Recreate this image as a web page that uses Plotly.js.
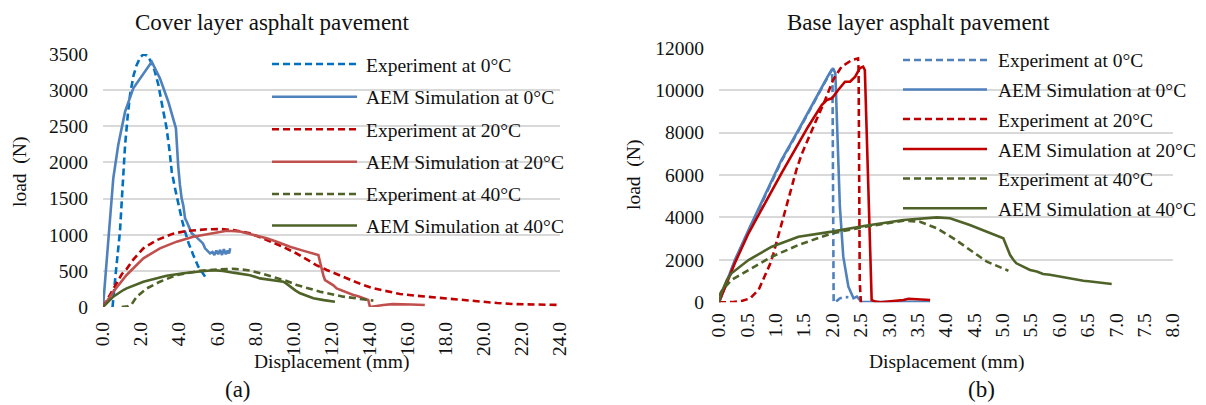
<!DOCTYPE html>
<html>
<head>
<meta charset="utf-8">
<script src="https://cdn.plot.ly/plotly-3.0.1.min.js"></script>
<style>
html,body{margin:0;padding:0;background:#fff;}
#chart{width:1206px;height:405px;}
</style>
</head>
<body>
<div id="chart"></div>
<script>
// ---------- Data ----------
const seriesNames = ["Experiment at 0°C","AEM Simulation at 0°C","Experiment at 20°C","AEM Simulation at 20°C","Experiment at 40°C","AEM Simulation at 40°C"];
const chartTitles = ["Cover layer asphalt pavement","Base layer asphalt pavement"];
const xTitle = "Displacement (mm)";
const yTitle = "load\u00a0 (N)";
const panelLabels = ["(a)","(b)"];

// (a) Cover layer
const coverExp0X = [0.5, 0.55, 0.7, 0.89, 1.0, 1.16, 1.3, 1.42, 1.6, 1.77, 1.95, 2.12, 2.3, 2.47, 2.7, 2.91, 3.1, 3.34, 3.5, 3.61, 3.8, 3.96, 4.15, 4.31, 4.5, 4.74, 5.0, 5.36];
const coverExp0Y = [0, 150, 550, 1042, 1550, 2241, 2650, 2933, 3200, 3348, 3450, 3496, 3480, 3417, 3280, 3071, 2800, 2472, 2150, 1872, 1620, 1411, 1200, 1042, 880, 719, 560, 420];

const coverAem0X = [0, 0.1, 0.28, 0.54, 0.8, 1.16, 1.59, 2.12, 2.56, 2.99, 3.43, 3.83, 3.88, 3.95, 4.04, 4.13, 4.22, 4.31, 4.4, 4.48, 4.66, 4.85, 5.09, 5.25, 5.36, 5.5, 5.62, 5.75, 5.85, 5.95, 6.05, 6.15, 6.25, 6.35, 6.45, 6.55, 6.62, 6.68];
const coverAem0Y = [0, 330, 858, 1780, 2241, 2702, 3025, 3233, 3393, 3163, 2840, 2472, 2200, 1950, 1688, 1503, 1400, 1227, 1180, 1134, 1019, 980, 927, 880, 812, 770, 742, 760, 720, 780, 730, 790, 720, 800, 730, 780, 740, 812];

const coverExp20X = [0, 0.4, 0.7, 1.0, 1.24, 1.59, 2.12, 2.82, 3.69, 4.39, 5.45, 6.2, 6.84, 7.72, 8.6, 9.47, 10.17, 10.7, 11.2, 11.75, 12.3, 12.97, 13.6, 14.2, 14.9, 15.6, 16.5, 17.35, 18.0, 18.75, 19.8, 20.7, 21.55, 22.8, 24.0];
const coverExp20Y = [0, 180, 330, 460, 525, 655, 812, 925, 1015, 1052, 1075, 1078, 1065, 1019, 927, 830, 740, 660, 580, 512, 450, 373, 310, 258, 215, 180, 155, 134, 115, 97, 73, 55, 41, 34, 28];

const coverAem20X = [0, 0.54, 1.24, 2.12, 2.99, 3.87, 4.74, 5.79, 6.5, 7.2, 7.8, 8.6, 9.2, 9.82, 10.5, 11.31, 11.4, 11.49, 11.58, 11.66, 11.8, 11.92, 12.1, 12.27, 12.45, 12.62, 12.9, 13.15, 13.4, 13.67, 13.93, 14.02, 14.2, 14.37, 14.72, 15.2, 15.6, 16.2, 16.9];
const coverAem20Y = [0, 212, 443, 674, 812, 904, 973, 1028, 1055, 1045, 1005, 950, 895, 834, 780, 719, 620, 512, 430, 373, 350, 328, 300, 258, 240, 212, 190, 166, 150, 120, 97, 0, 8, 14, 28, 40, 41, 35, 28];

const coverExp40X = [0.98, 1.3, 1.51, 1.77, 2.3, 2.99, 3.87, 5.09, 6.14, 6.84, 7.2, 7.72, 8.42, 8.94, 9.65, 10.17, 11.4, 12.62, 13.5, 14.2];
const coverExp40Y = [0, 10, 40, 143, 258, 350, 443, 500, 521, 530, 521, 505, 455, 419, 360, 304, 212, 143, 110, 88];

const coverAem40X = [0, 0.54, 1.07, 1.24, 2.12, 2.47, 3.34, 4.22, 4.57, 5.2, 5.79, 6.3, 6.84, 7.72, 8.25, 9.0, 9.47, 9.65, 9.82, 10.1, 10.35, 10.7, 11.05, 11.6, 12.18];
const coverAem40Y = [0, 143, 235, 258, 350, 373, 433, 466, 479, 495, 508, 500, 475, 440, 396, 370, 350, 320, 281, 230, 189, 150, 120, 95, 73];

// (b) Base layer
const baseExp0X = [0, 0.15, 0.28, 0.52, 1.1, 1.4, 1.69, 1.93, 1.99, 2.0, 2.01, 2.02, 2.05, 2.13, 2.2, 2.28];
const baseExp0Y = [0, 1050, 1950, 3350, 6650, 8080, 9480, 10650, 10980, 10300, 5000, 0, 0, 188, 250, 235];

const baseAem0X = [0, 0.15, 0.28, 0.52, 1.1, 1.4, 1.69, 1.93, 2.01, 2.05, 2.09, 2.13, 2.19, 2.28, 2.37, 2.43, 2.47, 2.51, 2.7, 3.0, 3.3, 3.5, 3.72];
const baseAem0Y = [0, 1100, 1993, 3400, 6707, 8121, 9535, 10713, 11029, 10793, 7650, 4506, 2149, 735, 188, 264, 150, 28, 10, 5, 10, 20, 28];

const baseExp20X = [0, 0.25, 0.4, 0.55, 0.7, 0.78, 0.9, 0.96, 1.05, 1.13, 1.2, 1.28, 1.37, 1.46, 1.58, 1.69, 1.87, 2.01, 2.16, 2.34, 2.45, 2.46, 2.47, 2.48, 2.5, 2.54];
const baseExp20Y = [0, 10, 60, 188, 600, 1051, 1800, 2309, 3200, 3900, 4700, 5500, 6300, 7000, 7800, 8437, 9535, 10478, 11105, 11420, 11500, 11000, 6000, 1000, 0, 0];

const baseAem20X = [0, 0.15, 0.28, 0.52, 1.1, 1.57, 1.81, 1.9, 1.99, 2.1, 2.22, 2.31, 2.4, 2.48, 2.54, 2.57, 2.6, 2.63, 2.66, 2.69, 2.75, 2.85, 3.07, 3.25, 3.34, 3.42, 3.55, 3.65, 3.72];
const baseAem20Y = [0, 1000, 1850, 3252, 6080, 8277, 9300, 9535, 9615, 10006, 10398, 10398, 10633, 11029, 11105, 10949, 8500, 6080, 3000, 108, 30, 0, 61, 108, 170, 155, 108, 115, 108];

const baseExp40X = [0, 0.05, 0.22, 0.52, 0.93, 1.4, 1.99, 2.58, 2.93, 3.25, 3.54, 3.84, 4.13, 4.42, 4.72, 5.1];
const baseExp40Y = [300, 550, 1051, 1522, 2149, 2701, 3252, 3563, 3723, 3846, 3800, 3486, 3016, 2465, 1915, 1490];

const baseAem40X = [0, 0.05, 0.14, 0.22, 0.52, 0.93, 1.4, 1.99, 2.58, 2.93, 3.25, 3.84, 4.07, 4.42, 4.72, 5.01, 5.07, 5.13, 5.19, 5.24, 5.36, 5.48, 5.6, 5.71, 5.83, 5.95, 6.06, 6.18, 6.3, 6.42, 6.55, 6.71, 6.8, 6.92];
const baseAem40Y = [0, 500, 1051, 1366, 1993, 2622, 3093, 3330, 3610, 3752, 3879, 4005, 3959, 3643, 3330, 3016, 2622, 2229, 1993, 1838, 1680, 1522, 1450, 1334, 1300, 1240, 1200, 1131, 1080, 1018, 980, 924, 900, 862];

// ---------- Styles ----------
const W = 1206, H = 405;
const FONT = "Liberation Serif, Times New Roman, serif";
const TXT = "#111";
const DASH = "7px,4px";
const LW = 2.6;
const leftColors  = ["#0070C0","#4F81BD","#C00000","#C0504D","#4F6228","#4F6228"];
const rightColors = ["#4F81BD","#4F81BD","#C00000","#C00000","#4F6228","#4F6228"];
const dashes = [DASH,"solid",DASH,"solid",DASH,"solid"];

const coverSets = [[coverExp0X,coverExp0Y],[coverAem0X,coverAem0Y],[coverExp20X,coverExp20Y],[coverAem20X,coverAem20Y],[coverExp40X,coverExp40Y],[coverAem40X,coverAem40Y]];
const baseSets  = [[baseExp0X,baseExp0Y],[baseAem0X,baseAem0Y],[baseExp20X,baseExp20Y],[baseAem20X,baseAem20Y],[baseExp40X,baseExp40Y],[baseAem40X,baseAem40Y]];

const traces = [];
coverSets.forEach((s,i)=>traces.push({x:s[0],y:s[1].map(v=>Math.max(0,v)),type:"scatter",mode:"lines",name:seriesNames[i],showlegend:false,
  line:{color:leftColors[i],width:LW,dash:dashes[i]},xaxis:"x",yaxis:"y",hoverinfo:"skip"}));
baseSets.forEach((s,i)=>traces.push({x:s[0],y:s[1].map(v=>Math.max(0,v)),type:"scatter",mode:"lines",name:seriesNames[i],showlegend:false,
  line:{color:rightColors[i],width:LW,dash:dashes[i]},xaxis:"x2",yaxis:"y2",hoverinfo:"skip"}));

const px = v => v / W;
const py = v => 1 - v / H;

const axisCommon = {showline:false,zeroline:false,ticks:"",showgrid:false,fixedrange:true,automargin:false,
  tickfont:{family:FONT,size:19.5,color:TXT}};
const yCommon = Object.assign({},axisCommon,{showgrid:true,gridcolor:"#d9d9d9",gridwidth:2,tickformat:"d"});

const layout = {
  width:W,height:H,margin:{l:0,r:0,t:0,b:0},paper_bgcolor:"#fff",plot_bgcolor:"rgba(0,0,0,0)",showlegend:false,
  font:{family:FONT,color:TXT},
  xaxis:Object.assign({},axisCommon,{domain:[px(103),px(560)],range:[0,24],dtick:2,tick0:0,tickformat:".1f",tickangle:-90,ticklabelstandoff:10,anchor:"y"}),
  yaxis:Object.assign({},yCommon,{domain:[py(307),py(54)],range:[0,3500],dtick:500,ticklabelstandoff:14,anchor:"x"}),
  xaxis2:Object.assign({},axisCommon,{domain:[px(719),px(1173)],range:[0,8],dtick:0.5,tick0:0,tickformat:".1f",tickangle:-90,ticklabelstandoff:6,anchor:"y2"}),
  yaxis2:Object.assign({},yCommon,{domain:[py(302.3),py(47.7)],range:[0,12000],dtick:2000,ticklabelstandoff:14,anchor:"x2"}),
  shapes:[],annotations:[]
};

function ann(text,x,y,opts){
  return Object.assign({text:text,x:px(x),y:py(y),xref:"paper",yref:"paper",showarrow:false,xanchor:"center",yanchor:"middle",
    font:{family:FONT,size:19.5,color:TXT}},opts||{});
}
// titles
layout.annotations.push(ann(chartTitles[0],133,22,{xanchor:"left",font:{family:FONT,size:23,color:TXT}}));
layout.annotations.push(ann(chartTitles[1],785,22,{xanchor:"left",font:{family:FONT,size:23,color:TXT}}));
layout.annotations.push(ann(xTitle,331,362));
layout.annotations.push(ann(xTitle,946,362));
layout.annotations.push(ann(yTitle,20,172,{textangle:-90}));
layout.annotations.push(ann(yTitle,634,175,{textangle:-90}));
layout.annotations.push(ann(panelLabels[0],238,389,{font:{family:FONT,size:23,color:TXT}}));
layout.annotations.push(ann(panelLabels[1],981,389,{font:{family:FONT,size:23,color:TXT}}));

// legends
const leftRows = [64,96.7,129.3,161.7,194,225.5];
const rightRows = [60,89.5,119,149,178.5,208.3];
seriesNames.forEach((n,i)=>{
  layout.shapes.push({type:"line",xref:"paper",yref:"paper",x0:px(272),x1:px(357),y0:py(leftRows[i]),y1:py(leftRows[i]),
    line:{color:leftColors[i],width:LW,dash:dashes[i]}});
  layout.annotations.push(ann(n,364,leftRows[i]+1,{xanchor:"left"}));
  layout.shapes.push({type:"line",xref:"paper",yref:"paper",x0:px(903),x1:px(987),y0:py(rightRows[i]),y1:py(rightRows[i]),
    line:{color:rightColors[i],width:LW,dash:dashes[i]}});
  layout.annotations.push(ann(n,996,rightRows[i]+1,{xanchor:"left"}));
});

Plotly.newPlot("chart",traces,layout,{displayModeBar:false,staticPlot:true});
</script>
</body>
</html>
